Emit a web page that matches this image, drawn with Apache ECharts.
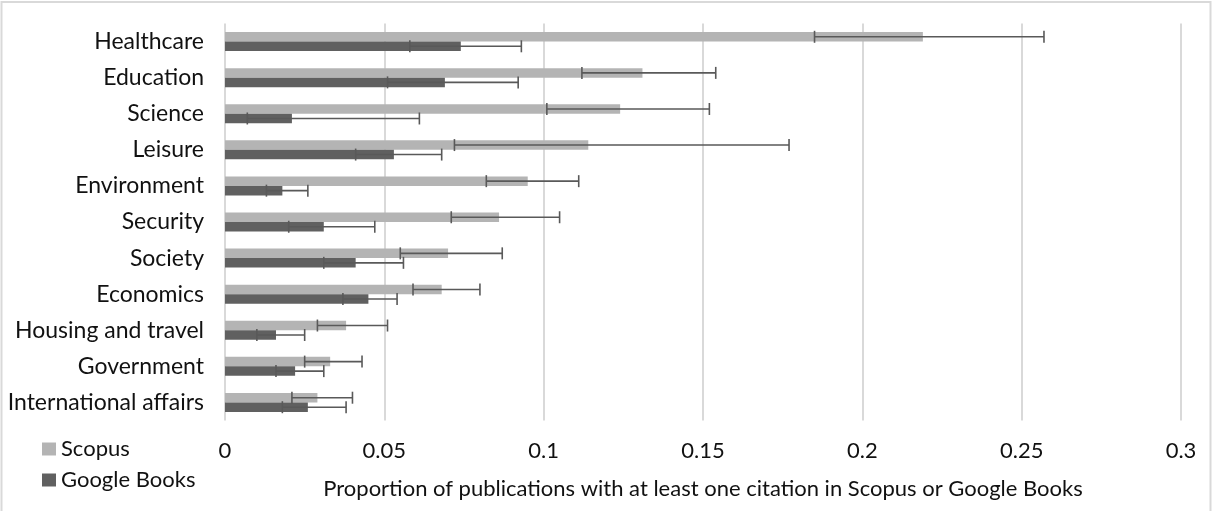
<!DOCTYPE html>
<html>
<head>
<meta charset="utf-8">
<script src="https://cdn.jsdelivr.net/npm/echarts@6/dist/echarts.min.js"></script>
<style>
html, body { margin: 0; padding: 0; background: #fff; }
#chart { width: 1212px; height: 511px; }
</style>
</head>
<body>
<div id="chart"></div>
<script>
// categories, top to bottom
var categories = ['Healthcare', 'Education', 'Science', 'Leisure', 'Environment', 'Security',
    'Society', 'Economics', 'Housing and travel', 'Government', 'International affairs'];

// Scopus proportion + error range
var scopus     = [0.219, 0.131, 0.124, 0.114, 0.095, 0.086, 0.070, 0.068, 0.038, 0.033, 0.029];
var scopusLow  = [0.185, 0.112, 0.101, 0.072, 0.082, 0.071, 0.055, 0.059, 0.029, 0.025, 0.021];
var scopusHigh = [0.257, 0.154, 0.152, 0.177, 0.111, 0.105, 0.087, 0.080, 0.051, 0.043, 0.040];

// Google Books proportion + error range
var books      = [0.074, 0.069, 0.021, 0.053, 0.018, 0.031, 0.041, 0.045, 0.016, 0.022, 0.026];
var booksLow   = [0.058, 0.051, 0.007, 0.041, 0.013, 0.020, 0.031, 0.037, 0.010, 0.016, 0.018];
var booksHigh  = [0.093, 0.092, 0.061, 0.068, 0.026, 0.047, 0.056, 0.054, 0.025, 0.031, 0.038];

// x axis ticks
var xTicks = [0, 0.05, 0.1, 0.15, 0.2, 0.25, 0.3];

var FONT = 'Lato';
var TXT = '#111';
var BAR_W = 9.5;

function errData(lo, hi) {
    return lo.map(function (v, i) { return [i, v, hi[i]]; });
}

// error bar drawn across whole range with caps at both ends
function errRender(offset) {
    return function (params, api) {
        var i = api.value(0);
        var a = api.coord([api.value(1), i]);
        var b = api.coord([api.value(2), i]);
        var y = a[1] + offset;
        var h = 6;
        var st = { stroke: '#595959', lineWidth: 1.6 };
        return {
            type: 'group',
            children: [
                { type: 'line', shape: { x1: a[0], y1: y, x2: b[0], y2: y }, style: st },
                { type: 'line', shape: { x1: a[0], y1: y - h, x2: a[0], y2: y + h }, style: st },
                { type: 'line', shape: { x1: b[0], y1: y - h, x2: b[0], y2: y + h }, style: st }
            ]
        };
    };
}

var chart = echarts.init(document.getElementById('chart'));
chart.setOption({
    animation: false,
    textStyle: { fontFamily: FONT },
    graphic: [{
        type: 'rect',
        shape: { x: 1.5, y: 2, width: 1209, height: 530 },
        style: { fill: 'none', stroke: '#d9d9d9', lineWidth: 2 },
        silent: true
    }],
    grid: { left: 225, right: 31, top: 23.5, height: 397 },
    legend: {
        data: ['Scopus', 'Google Books'],
        orient: 'vertical',
        left: 42,
        top: 436,
        height: 74,
        padding: 0,
        itemWidth: 14,
        itemHeight: 13,
        itemGap: 5,
        icon: 'rect',
        textStyle: { fontFamily: FONT, fontSize: 22, color: TXT, lineHeight: 26 }
    },
    xAxis: {
        type: 'value',
        min: xTicks[0],
        max: xTicks[xTicks.length - 1],
        interval: 0.05,
        name: 'Proportion of publications with at least one citation in Scopus or Google Books',
        nameLocation: 'middle',
        nameGap: 57,
        nameTextStyle: { fontFamily: FONT, fontSize: 22, color: TXT },
        axisLine: { show: false },
        axisTick: { show: false },
        axisLabel: { fontFamily: FONT, fontSize: 22, color: TXT, margin: 19 },
        splitLine: { lineStyle: { color: '#d9d9d9', width: 2 } }
    },
    yAxis: {
        type: 'category',
        data: categories,
        inverse: true,
        axisLine: { show: false },
        axisTick: { show: false },
        axisLabel: { fontFamily: FONT, fontSize: 23, color: TXT, margin: 21 },
        splitLine: { show: false }
    },
    series: [
        {
            name: 'Scopus',
            type: 'bar',
            data: scopus,
            barWidth: BAR_W,
            barGap: '0%',
            itemStyle: { color: '#b4b4b4' }
        },
        {
            name: 'Google Books',
            type: 'bar',
            data: books,
            barWidth: BAR_W,
            barGap: '0%',
            itemStyle: { color: '#606060' }
        },
        {
            name: 'Scopus error',
            type: 'custom',
            renderItem: errRender(-BAR_W / 2),
            encode: { x: [1, 2], y: 0 },
            data: errData(scopusLow, scopusHigh),
            z: 5
        },
        {
            name: 'Google Books error',
            type: 'custom',
            renderItem: errRender(BAR_W / 2),
            encode: { x: [1, 2], y: 0 },
            data: errData(booksLow, booksHigh),
            z: 5
        }
    ]
});
</script>
</body>
</html>
